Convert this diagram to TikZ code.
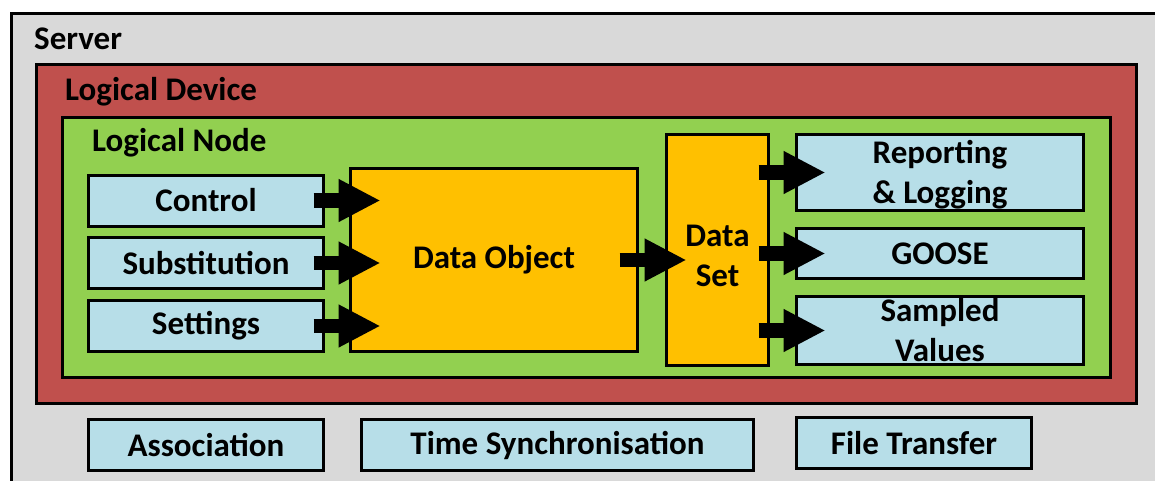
\documentclass[tikz,border=0pt]{standalone}
\usepackage{fontspec}
\setmainfont{Carlito}
\usetikzlibrary{calc,arrows.meta}

\definecolor{srvgray}{HTML}{D9D9D9}
\definecolor{ldred}{HTML}{C0504D}
\definecolor{lngreen}{HTML}{92D050}
\definecolor{svcblue}{HTML}{B7DEE8}
\definecolor{doorange}{HTML}{FFC000}

\begin{document}
\begin{tikzpicture}[x=1pt,y=-1pt,
  every node/.style={font=\fontsize{33}{40}\selectfont\bfseries, text=black},
  frame/.style={draw=black, line width=3pt, inner sep=0pt},
  title/.style={anchor=west, inner sep=0pt},
  svc/.style={frame, fill=svcblue, align=center},
  dob/.style={frame, fill=doorange, align=center},
  blockarrow/.style={draw=black, line width=14.5pt, -{Triangle[length=42pt,width=40pt]}}
]
\useasboundingbox (0,0) rectangle (1155,480);
\clip (0,0) rectangle (1155,480);

% nested containers
\node[frame, fill=srvgray, anchor=north west, minimum width=1180pt, minimum height=500pt] (server) at (9.5,11.5) {};
\node[title] (serverlbl) at (34,39) {Server};

\node[frame, fill=ldred, minimum width=1100pt, minimum height=339pt] (ldev) at (586.5,234) {};
\node[title] (ldevlbl) at (65,92) {Logical Device};

\node[frame, fill=lngreen, minimum width=1048pt, minimum height=260pt] (lnode) at (586.5,247.5) {};
\node[title] (lnodelbl) at (92,143) {Logical Node};

% inputs
\node[svc, minimum width=235pt, minimum height=51pt] (control) at (206,200.5) {Control};
\node[svc, minimum width=235pt, minimum height=51pt] (subst) at (206,263) {Substitution};
\node[svc, minimum width=235pt, minimum height=51pt] (settings) at (206,326) {Settings};

% data model
\node[dob, minimum width=287pt, minimum height=183pt] (dobj) at (494,260) {Data Object};
\node[dob, minimum width=102pt, minimum height=231pt] (dset) at (717.5,250) {\rule{0pt}{33pt}Data\\Set};

% outputs
\node[svc, minimum width=287pt, minimum height=76pt] (report) at (940,172.5) {\rule{0pt}{27pt}Reporting\\\& Logging};
\node[svc, minimum width=287pt, minimum height=50pt] (goose) at (940,253.5) {GOOSE};
\node[svc, minimum width=287pt, minimum height=68pt] (sv) at (940,330.5) {Sampled\\Values};

% server services
\node[svc, minimum width=235pt, minimum height=51pt] (assoc) at (206,445) {Association};
\node[svc, minimum width=392pt, minimum height=51pt] (tsync) at (557.5,445) {Time Synchronisation};
\node[svc, minimum width=235pt, minimum height=51pt] (ftrans) at (914,443) {File Transfer};

% block arrows
\foreach \src in {control,subst,settings}
  \draw[blockarrow] ($(\src.east)+(-11.5,0)$) -- ($(\src.east -| dobj.west)+(31.5,0)$);
\draw[blockarrow] ($(dobj.east)+(-19.5,0)$) -- ($(dobj.east -| dset.west)+(21.5,0)$);
\foreach \dst in {report,goose,sv}
  \draw[blockarrow] ($(\dst.west -| dset.east)+(-11.5,0)$) -- ($(\dst.west)+(30.5,0)$);
\end{tikzpicture}
\end{document}
